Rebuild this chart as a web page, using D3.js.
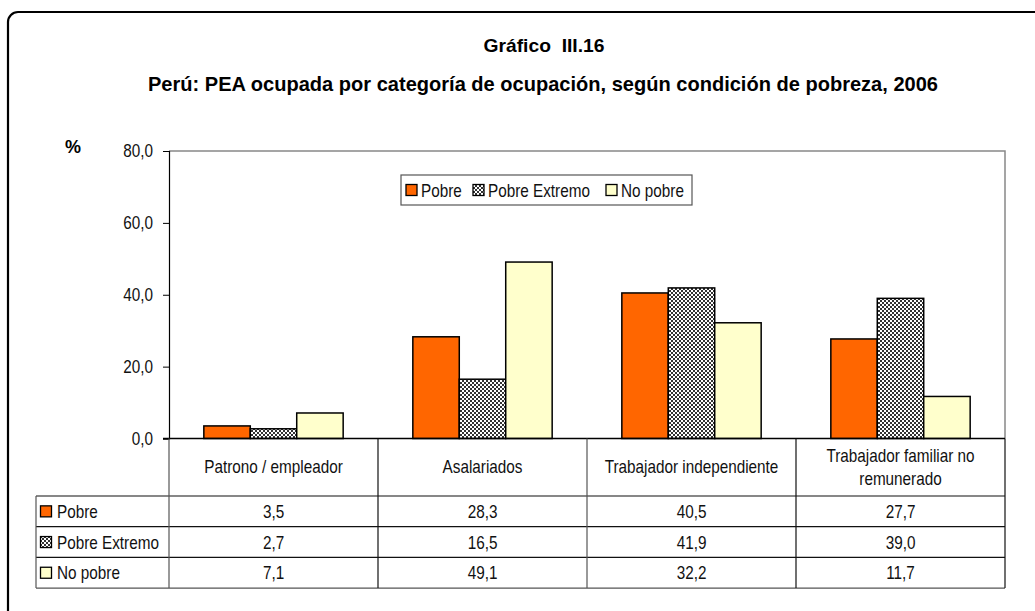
<!DOCTYPE html>
<html>
<head>
<meta charset="utf-8">
<script src="https://cdn.jsdelivr.net/npm/d3@7"></script>
<style>
  body { margin: 0; background: #fff; }
  svg { display: block; font-family: "Liberation Sans", Arial, sans-serif; }
</style>
</head>
<body>
<svg id="chart" width="1035" height="611"></svg>
<script>
// data
var categories = ["Patrono / empleador", "Asalariados", "Trabajador independiente", "Trabajador familiar no remunerado"];
var catLines = [["Patrono / empleador"], ["Asalariados"], ["Trabajador independiente"], ["Trabajador familiar no", "remunerado"]];
var seriesNames = ["Pobre", "Pobre Extremo", "No pobre"];
var pobre = [3.5, 28.3, 40.5, 27.7];
var pobreExtremo = [2.7, 16.5, 41.9, 39.0];
var noPobre = [7.1, 49.1, 32.2, 11.7];
var yTicks = [0, 20, 40, 60, 80];

var seriesValues = [pobre, pobreExtremo, noPobre];
var fills = ["#FF6600", "url(#checker)", "#FFFFCC"];

var svg = d3.select("#chart");
var fmt = function(v) { return d3.format(".1f")(v).replace(".", ","); };
var SX = 0.85; // narrow look of the original font

// narrow text helper
function label(parent, x, y, str, anchor) {
  return parent.append("text")
    .attr("transform", "translate(" + x + "," + y + ") scale(" + SX + ",1)")
    .attr("text-anchor", anchor || "start")
    .style("font-size", "18px").attr("fill", "#111").text(str);
}

// checker pattern for "Pobre Extremo"
var defs = svg.append("defs");
var pat = defs.append("pattern").attr("id", "checker").attr("patternUnits", "userSpaceOnUse")
  .attr("width", 4).attr("height", 4);
pat.append("rect").attr("width", 4).attr("height", 4).attr("fill", "#fff");
pat.append("rect").attr("width", 2).attr("height", 2).attr("fill", "#333");
pat.append("rect").attr("x", 2).attr("y", 2).attr("width", 2).attr("height", 2).attr("fill", "#333");

// outer frame
svg.append("rect").attr("x", 8).attr("y", 12).attr("width", 1100).attr("height", 700)
  .attr("rx", 10).attr("fill", "none").attr("stroke", "#000").attr("stroke-width", 2.2);

// titles (narrow bold look)
svg.append("text").attr("x", 544).attr("y", 52).attr("text-anchor", "middle")
  .attr("textLength", 121).attr("lengthAdjust", "spacingAndGlyphs")
  .style("white-space", "pre")
  .style("font-weight", "bold").style("font-size", "19px")
  .text("Gráfico  III.16");
svg.append("text").attr("x", 543).attr("y", 91).attr("text-anchor", "middle")
  .attr("textLength", 790).attr("lengthAdjust", "spacingAndGlyphs")
  .style("font-weight", "bold").style("font-size", "21px")
  .text("Perú: PEA ocupada por categoría de ocupación, según condición de pobreza, 2006");

// scales
var plotLeft = 169, plotRight = 1005, plotTop = 151, base = 438.5;
var x = d3.scaleBand().domain(categories).range([plotLeft, plotRight]).padding(0);
var xs = d3.scaleBand().domain(seriesNames).range([0, x.bandwidth()]).paddingInner(0).paddingOuter(0.75);
var y = d3.scaleLinear().domain([0, 80]).range([base, plotTop]);

// plot frame (top + right grey)
svg.append("path").attr("d", "M" + plotLeft + "," + plotTop + "H" + plotRight + "V" + base)
  .attr("fill", "none").attr("stroke", "#888").attr("stroke-width", 1.5);

// y axis
var yAxis = d3.axisLeft(y).tickValues(yTicks).tickSize(6).tickFormat(fmt);
var ga = svg.append("g").attr("transform", "translate(" + plotLeft + ",0)").call(yAxis);
ga.select(".domain").attr("stroke", "#000").attr("stroke-width", 1.2);
ga.selectAll(".tick line").attr("stroke", "#000");
ga.selectAll(".tick text").attr("x", -16 / SX).attr("transform", "scale(" + SX + ",1)")
  .style("font-size", "18px").attr("fill", "#111");

svg.append("text").attr("x", 73).attr("y", 153).attr("text-anchor", "middle")
  .style("font-weight", "bold").style("font-size", "18px").text("%");

// bars
var groups = svg.selectAll("g.cat").data(categories).enter().append("g").attr("class", "cat")
  .attr("transform", function(d) { return "translate(" + x(d) + ",0)"; });
groups.selectAll("rect").data(function(d, i) {
    return seriesNames.map(function(s, j) { return { s: s, j: j, v: seriesValues[j][i] }; });
  }).enter().append("rect")
  .attr("x", function(d) { return xs(d.s); })
  .attr("y", function(d) { return y(d.v); })
  .attr("width", xs.bandwidth())
  .attr("height", function(d) { return base - y(d.v); })
  .attr("fill", function(d) { return fills[d.j]; })
  .attr("stroke", "#000").attr("stroke-width", 1.5);

// baseline
svg.append("line").attr("x1", plotLeft - 6).attr("x2", plotRight).attr("y1", base).attr("y2", base)
  .attr("stroke", "#000").attr("stroke-width", 1.5);

// data table
var tableLeft = 36, headBottom = 496, rowH = 30.7;
var rowY = function(r) { return headBottom + r * rowH; };
var lineColor = "#111";

for (var r = 0; r <= 3; r++) {
  svg.append("line").attr("x1", tableLeft).attr("x2", plotRight)
    .attr("y1", rowY(r)).attr("y2", rowY(r)).attr("stroke", r === 3 ? "#555" : lineColor).attr("stroke-width", 1.2);
}
svg.append("line").attr("x1", tableLeft).attr("x2", tableLeft).attr("y1", headBottom).attr("y2", rowY(3))
  .attr("stroke", "#555").attr("stroke-width", 1.2);
var vlines = categories.map(function(c) { return x(c); }).concat([plotRight]);
vlines.forEach(function(vx, i) {
  svg.append("line").attr("x1", vx).attr("x2", vx).attr("y1", base).attr("y2", rowY(3))
    .attr("stroke", (i === 0 || i === 2) ? "#555" : lineColor).attr("stroke-width", 1.2);
});

// header labels
categories.forEach(function(c, i) {
  var lines = catLines[i];
  var cy = (base + headBottom) / 2 + 6;
  lines.forEach(function(l, k) {
    label(svg, x(c) + x.bandwidth() / 2, cy + (k - (lines.length - 1) / 2) * 23, l, "middle");
  });
});

// row labels + values
seriesNames.forEach(function(s, j) {
  var cy = rowY(j) + rowH / 2;
  svg.append("rect").attr("x", 40.5).attr("y", cy - 5.5).attr("width", 11).attr("height", 11)
    .attr("fill", fills[j]).attr("stroke", "#000").attr("stroke-width", 1.3);
  label(svg, 57, cy + 6.5, s);
  categories.forEach(function(c, i) {
    label(svg, x(c) + x.bandwidth() / 2, cy + 6.5, fmt(seriesValues[j][i]), "middle");
  });
});

// legend
var lg = svg.append("g").attr("transform", "translate(401,175)");
lg.append("rect").attr("width", 291).attr("height", 30).attr("fill", "#fff").attr("stroke", "#555").attr("stroke-width", 1.2);
var legX = [5, 72, 205];
seriesNames.forEach(function(s, j) {
  lg.append("rect").attr("x", legX[j]).attr("y", 9.5).attr("width", 11).attr("height", 11)
    .attr("fill", fills[j]).attr("stroke", "#000").attr("stroke-width", 1.3);
  label(lg, legX[j] + 15, 21.5, s);
});
</script>
</body>
</html>
